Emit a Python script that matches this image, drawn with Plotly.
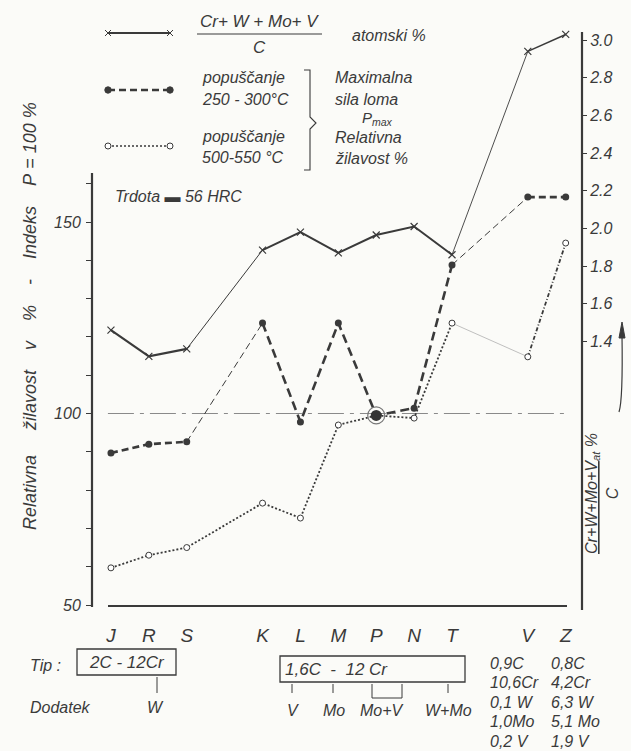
import plotly.graph_objects as go

W, H = 631, 751

# ---------------- data ----------------
categories = ["J", "R", "S", "K", "L", "M", "P", "N", "T", "V", "Z"]
cat_pos = [0, 1, 2, 4, 5, 6, 7, 8, 9, 11, 12]
ratio_at = [1.46, 1.32, 1.36, 1.885, 1.98, 1.87, 1.965, 2.01, 1.86, 2.94, 3.03]
pmax_250 = [89.7, 92.0, 92.6, 123.6, 97.8, 123.6, 99.5, 101.4, 138.8, 156.5, 156.5]
tough_500 = [59.7, 63.0, 65.0, 76.6, 72.7, 97.0, 99.5, 98.8, 123.6, 114.8, 144.5]
ref_level = 100
left_minor = [60, 70, 80, 90, 110, 120, 130, 140, 160]
left_labels = [50, 100, 150]
right_tickvals = [1.4, 1.6, 1.8, 2.0, 2.2, 2.4, 2.6, 2.8, 3.0]

INK = "#3a3a3a"
FONT = "Liberation Sans"
BG = "#fbfbf8"

# ---------------- layout geometry (pixels) ----------------
PL, PR, PT, PB = 92, 582, 28, 605
LPX = 3.83      # px per left-axis unit
RPX = 188.3     # px per right-axis unit


def px(x):
    return x / W


def py(y):
    return 1 - y / H


fig = go.Figure()


def seg(vals, i0, i1, axis="y", **line):
    fig.add_trace(go.Scatter(
        x=cat_pos[i0:i1 + 1], y=vals[i0:i1 + 1], mode="lines",
        line=dict(color=line.pop("color", INK), **line), yaxis=axis,
        hoverinfo="skip", showlegend=False))


# reference line at 100 %
fig.add_trace(go.Scatter(x=[cat_pos[0] - 0.08, cat_pos[-1]], y=[ref_level, ref_level],
                         mode="lines", line=dict(color="#8a8a8a", width=1,
                                                 dash="26px,6px,4px,6px"),
                         showlegend=False, hoverinfo="skip"))

# ratio (right axis) - solid
seg(ratio_at, 0, 2, "y2", width=2.2)
seg(ratio_at, 2, 3, "y2", width=1.0)
seg(ratio_at, 3, 8, "y2", width=2.0)
seg(ratio_at, 8, 9, "y2", width=0.9)
seg(ratio_at, 9, 10, "y2", width=1.5)
fig.add_trace(go.Scatter(x=cat_pos, y=ratio_at, mode="markers", yaxis="y2",
                         marker=dict(symbol="x-thin-open", size=7, color=INK,
                                     line=dict(width=1.2, color=INK)),
                         showlegend=False, hoverinfo="skip"))

# P_max 250-300 C - dashed
seg(pmax_250, 0, 2, width=2.6, dash="7px,4px")
seg(pmax_250, 2, 3, width=1.0, dash="7px,4px")
seg(pmax_250, 3, 8, width=2.6, dash="9px,5px")
seg(pmax_250, 8, 9, width=1.0, dash="7px,4px")
seg(pmax_250, 9, 10, width=2.6, dash="7px,4px")

# toughness 500-550 C - dotted
seg(tough_500, 0, 8, width=1.8, dash="2px,2px")
seg(tough_500, 8, 9, width=0.8, color="#b0b0b0")
seg(tough_500, 9, 10, width=1.8, dash="4px,2px,1px,2px")

fig.add_trace(go.Scatter(x=cat_pos, y=pmax_250, mode="markers",
                         marker=dict(symbol="circle", size=7, color=INK),
                         showlegend=False, hoverinfo="skip"))
fig.add_trace(go.Scatter(x=cat_pos, y=tough_500, mode="markers",
                         marker=dict(symbol="circle", size=6, color="white",
                                     line=dict(width=1, color=INK)),
                         showlegend=False, hoverinfo="skip"))
# highlighted common point P
ip = categories.index("P")
fig.add_trace(go.Scatter(x=[cat_pos[ip]], y=[pmax_250[ip]], mode="markers",
                         marker=dict(symbol="circle", size=17, color="rgba(0,0,0,0)",
                                     line=dict(width=1.2, color="#777")),
                         showlegend=False, hoverinfo="skip"))
fig.add_trace(go.Scatter(x=[cat_pos[ip]], y=[pmax_250[ip]], mode="markers",
                         marker=dict(symbol="circle", size=11, color="#333"),
                         showlegend=False, hoverinfo="skip"))

# ---------------- shapes ----------------
shapes = []


def line(x0, y0, x1, y1, width=1.2, color=INK, dash="solid"):
    shapes.append(dict(type="line", xref="paper", yref="paper",
                       x0=px(x0), y0=py(y0), x1=px(x1), y1=py(y1),
                       line=dict(width=width, color=color, dash=dash)))


def rect(x0, y0, x1, y1):
    shapes.append(dict(type="rect", xref="paper", yref="paper",
                       x0=px(x0), y0=py(y0), x1=px(x1), y1=py(y1),
                       line=dict(width=1.3, color=INK)))


def circle(cx, cy, r, fill):
    shapes.append(dict(type="circle", xref="paper", yref="paper",
                       x0=px(cx - r), y0=py(cy + r), x1=px(cx + r), y1=py(cy - r),
                       fillcolor=fill, line=dict(width=1, color=INK)))


def xmark(cx, cy, r=3):
    line(cx - r, cy - r, cx + r, cy + r, 1)
    line(cx - r, cy + r, cx + r, cy - r, 1)


# axes lines
line(PL, 173, PL, 607, 2.2)
line(108, 606, 567, 606, 2.2)
line(PR, 32, PR, 610, 2.2)

# legend samples
line(108, 33, 170, 33, 2.2)
xmark(108, 33)
xmark(170, 33)
line(108, 90, 170, 90, 2.6, dash="7px,4px")
circle(108, 90, 3.2, INK)
circle(170, 90, 3.2, INK)
line(108, 146, 170, 146, 1.6, dash="2px,2px")
circle(108, 146, 3, "white")
circle(170, 146, 3, "white")
# fraction line
line(197, 34, 322, 34, 1.2)
# brace
shapes.append(dict(type="path", xref="paper", yref="paper",
                   path=" ".join([
                       f"M {px(304)} {py(70)} L {px(310)} {py(70)} L {px(310)} {py(117)}",
                       f"L {px(316)} {py(123)} L {px(310)} {py(129)} L {px(310)} {py(170)}",
                       f"L {px(304)} {py(170)}"]),
                   line=dict(width=1.1, color=INK)))

# bottom boxes and arrows
rect(77, 649, 176, 675)
rect(280, 656, 465, 682)
line(157, 693, 157, 677, 1)
for ax_ in [292, 333, 372, 402, 448]:
    line(ax_, 693, ax_, 684, 1)
line(372, 693, 372, 698, 1)
line(402, 693, 402, 698, 1)
line(372, 698, 402, 698, 1)

# right arrow
shapes.append(dict(type="path", xref="paper", yref="paper",
                   path=f"M {px(619)} {py(412)} Q {px(623)} {py(400)} {px(622)} {py(335)}",
                   line=dict(width=1.2, color=INK)))
shapes.append(dict(type="path", xref="paper", yref="paper",
                   path=f"M {px(619)} {py(338)} L {px(622)} {py(322)} L {px(625)} {py(338)} Z",
                   fillcolor=INK, line=dict(width=1, color=INK)))

# ---------------- annotations ----------------
ann = []


def text(x, y, s, size=16, xanchor="left", yanchor="middle", angle=0):
    ann.append(dict(x=px(x), y=py(y), xref="paper", yref="paper", text=s,
                    showarrow=False, xanchor=xanchor, yanchor=yanchor,
                    textangle=angle,
                    font=dict(family=FONT, size=size, color=INK, style="italic")))


text(259, 21, "Cr+ W + Mo+ V", 17, "center")
text(259, 47, "C", 17, "center")
text(350, 35, "atomski %", 16)
text(200, 78, "popuščanje", 16)
text(200, 99, "250 - 300°C", 16)
text(200, 136, "popuščanje", 16)
text(200, 157, "500-550 °C", 16)
text(333, 78, "Maximalna", 16)
text(333, 99, "sila loma", 16)
text(360, 118, "P<sub>max</sub>", 15)
text(333, 138, "Relativna", 16)
text(333, 158, "žilavost %", 16)
text(113, 197, "Trdota ▬ 56 HRC", 16)

NB = "\u00a0"
left_title = (f"Relativna{NB*5}žilavost{NB*4}v{NB*4}%{NB*4}-{NB*4}Indeks{NB*4}"
              f"P{NB}={NB}100{NB}%")
text(30, 316, left_title, 18, "center", angle=-90)
text(602, 494, f"<u>Cr+W+Mo+V</u><sub>at</sub> %<br>C", 16, "center", angle=-90)

text(28, 665, "Tip :", 16)
text(127, 662, "2C - 12Cr", 17, "center")
text(28, 707, "Dodatek", 16)
text(155, 707, "W", 16, "center")
text(283, 669, f"1,6C{NB*2}-{NB*2}12 Cr", 17)
text(293, 710, "V", 16, "center")
text(334, 710, "Mo", 16, "center")
text(382, 710, "Mo+V", 16, "center")
text(448, 710, "W+Mo", 16, "center")
col1 = ["0,9C", "10,6Cr", "0,1 W", "1,0Mo", "0,2 V"]
col2 = ["0,8C", "4,2Cr", "6,3 W", "5,1 Mo", "1,9 V"]
for i, (a, b) in enumerate(zip(col1, col2)):
    yy = 663 + i * 19.5
    text(488, yy, a, 16)
    text(549, yy, b, 16)

tickfont = dict(family=FONT, size=16, color=INK, style="italic")

plot_h = PB - PT
fig.update_layout(
    width=W, height=H,
    margin=dict(l=0, r=0, t=0, b=0, autoexpand=False),
    paper_bgcolor=BG, plot_bgcolor="rgba(0,0,0,0)",
    showlegend=False,
    shapes=shapes, annotations=ann,
    xaxis=dict(domain=[px(PL), px(PR)], range=[-0.5, 12.43],
               tickvals=cat_pos, ticktext=categories, automargin=False,
               tickfont=dict(family=FONT, size=19, color=INK, style="italic"),
               ticks="", showline=False, showgrid=False, zeroline=False,
               ticklabelstandoff=17),
    yaxis=dict(domain=[1 - PB / H, 1 - PT / H], range=[50, 50 + plot_h / LPX],
               tickvals=left_labels, ticktext=[str(v) for v in left_labels],
               ticks="outside", ticklen=5, tickwidth=1, tickcolor=INK,
               minor=dict(tickmode="array", tickvals=left_minor, ticks="outside",
                          ticklen=5, tickwidth=1, tickcolor=INK),
               tickfont=tickfont, showline=False, showgrid=False, zeroline=False,
               ticklabelstandoff=2, automargin=False),
    yaxis2=dict(overlaying="y", side="right", anchor="x", range=[0, plot_h / RPX],
                tickvals=right_tickvals, automargin=False,
                ticktext=[f"{v:.1f}" for v in right_tickvals],
                ticks="outside", ticklen=4, tickwidth=1, tickcolor=INK,
                tickfont=tickfont, showline=False, showgrid=False, zeroline=False,
                ticklabelstandoff=0),
)

fig.write_html("out.html")
